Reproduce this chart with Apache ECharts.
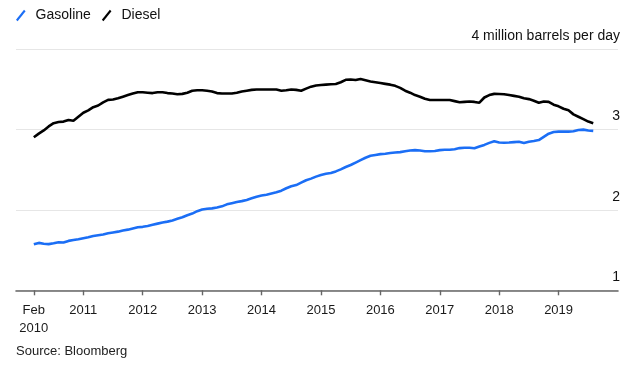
<!DOCTYPE html>
<html>
<head>
<meta charset="utf-8">
<script src="https://cdn.jsdelivr.net/npm/echarts@6/dist/echarts.min.js"></script>
<style>html,body{margin:0;padding:0;background:#fff}#c{width:640px;height:372px}</style>
</head>
<body>
<div id="c"></div>
<script>
// Monthly data, Feb 2010 .. Jul 2019 (million barrels per day)
const startYear = 2010, startMonth = 2;
const gasoline = [
1.573,1.59,1.58,1.575,1.585,1.598,1.595,1.615,1.625,1.635,1.648,
1.66,1.675,1.685,1.695,1.71,1.72,1.73,1.745,1.755,1.77,1.785,1.79,
1.80,1.815,1.83,1.845,1.855,1.87,1.89,1.91,1.935,1.955,1.985,2.005,
2.015,2.02,2.03,2.045,2.07,2.085,2.10,2.11,2.125,2.145,2.165,2.18,
2.19,2.205,2.22,2.24,2.27,2.295,2.31,2.34,2.37,2.39,2.415,2.435,
2.45,2.46,2.48,2.505,2.535,2.56,2.59,2.62,2.65,2.675,2.685,2.695,
2.70,2.71,2.715,2.72,2.73,2.74,2.745,2.74,2.73,2.73,2.735,2.745,
2.75,2.75,2.755,2.77,2.775,2.775,2.768,2.79,2.81,2.835,2.855,2.84,
2.837,2.84,2.845,2.85,2.835,2.85,2.858,2.87,2.91,2.95,2.97,2.975,
2.975,2.975,2.98,2.995,3.00,2.99,2.985
];
const diesel = [
2.905,2.95,2.99,3.04,3.08,3.095,3.10,3.12,3.11,3.16,3.21,
3.24,3.28,3.30,3.34,3.37,3.375,3.39,3.41,3.43,3.45,3.465,3.465,
3.46,3.455,3.465,3.465,3.455,3.45,3.44,3.445,3.46,3.485,3.49,3.49,
3.485,3.475,3.455,3.45,3.45,3.45,3.46,3.475,3.485,3.495,3.50,3.50,
3.50,3.50,3.50,3.485,3.49,3.50,3.495,3.485,3.51,3.535,3.55,3.555,
3.56,3.565,3.568,3.59,3.62,3.625,3.618,3.63,3.615,3.60,3.59,3.58,
3.57,3.56,3.545,3.52,3.485,3.46,3.43,3.41,3.385,3.369,3.369,3.369,
3.369,3.369,3.355,3.34,3.345,3.35,3.345,3.335,3.40,3.43,3.445,3.443,
3.44,3.43,3.42,3.41,3.39,3.38,3.36,3.335,3.35,3.345,3.31,3.29,
3.26,3.24,3.19,3.16,3.13,3.10,3.08
];
const xTicks = [2, 12, 24, 36, 48, 60, 72, 84, 96, 108];
const xTickLabels = ['Feb\n2010','2011','2012','2013','2014','2015','2016','2017','2018','2019'];
const yTickLabels = {1:'1', 2:'2', 3:'3', 4:'4 million barrels per day'};

// x position: end of each month, counted in months from Jan 2010
const toX = i => (startYear - 2010) * 12 + startMonth + i;
const gasData = gasoline.map((v, i) => [toX(i), v]);
const dieData = diesel.map((v, i) => [toX(i), v]);

const FONT = "'Liberation Sans', Arial, sans-serif";
const slash = 'path://M0,10 L8,0 L9.6,1.3 L1.6,11.3 Z';
const chart = echarts.init(document.getElementById('c'), null, {renderer: 'canvas'});
chart.setOption({
  animation: false,
  textStyle: {fontFamily: FONT},
  title: {
    text: 'Source: Bloomberg', left: 16, top: 345, padding: 0,
    textStyle: {fontSize: 13, fontWeight: 'normal', color: '#222', fontFamily: FONT}
  },
  legend: {
    left: 16, top: 8.5, padding: 0, itemWidth: 9.6, itemHeight: 11.3, itemGap: 11,
    icon: slash,
    textStyle: {fontSize: 14, color: '#111', fontFamily: FONT, padding: [3, 0, 0, 5]},
    data: ['Gasoline', 'Diesel']
  },
  grid: {left: 16, right: 22, top: 49.3, bottom: 81.7},
  xAxis: {
    type: 'value', min: -1.6, max: 120,
    axisLine: {show: true, lineStyle: {color: '#666', width: 1.6}},
    axisTick: {show: true, customValues: xTicks, length: 5, lineStyle: {color: '#666', width: 1.4}},
    axisLabel: {
      customValues: xTicks, margin: 11, fontSize: 13, lineHeight: 18, color: '#1a1a1a', fontFamily: FONT,
      formatter: v => xTickLabels[xTicks.indexOf(v)]
    },
    splitLine: {show: false}
  },
  yAxis: {
    type: 'value', position: 'right', min: 1, max: 4, interval: 1,
    axisLine: {show: false}, axisTick: {show: false},
    axisLabel: {
      inside: true, margin: -2, fontSize: 14, color: '#111', fontFamily: FONT,
      verticalAlign: 'bottom', padding: [0, 0, 6, 0],
      formatter: v => yTickLabels[v]
    },
    splitLine: {show: true, lineStyle: {color: '#e6e6e6', width: 1}}
  },
  series: [
    {name: 'Gasoline', type: 'line', data: gasData, showSymbol: false, color: '#1b6ef5',
     lineStyle: {width: 2.6, color: '#1b6ef5'}},
    {name: 'Diesel', type: 'line', data: dieData, showSymbol: false, color: '#000',
     lineStyle: {width: 2.6, color: '#000'}}
  ]
});
</script>
</body>
</html>
